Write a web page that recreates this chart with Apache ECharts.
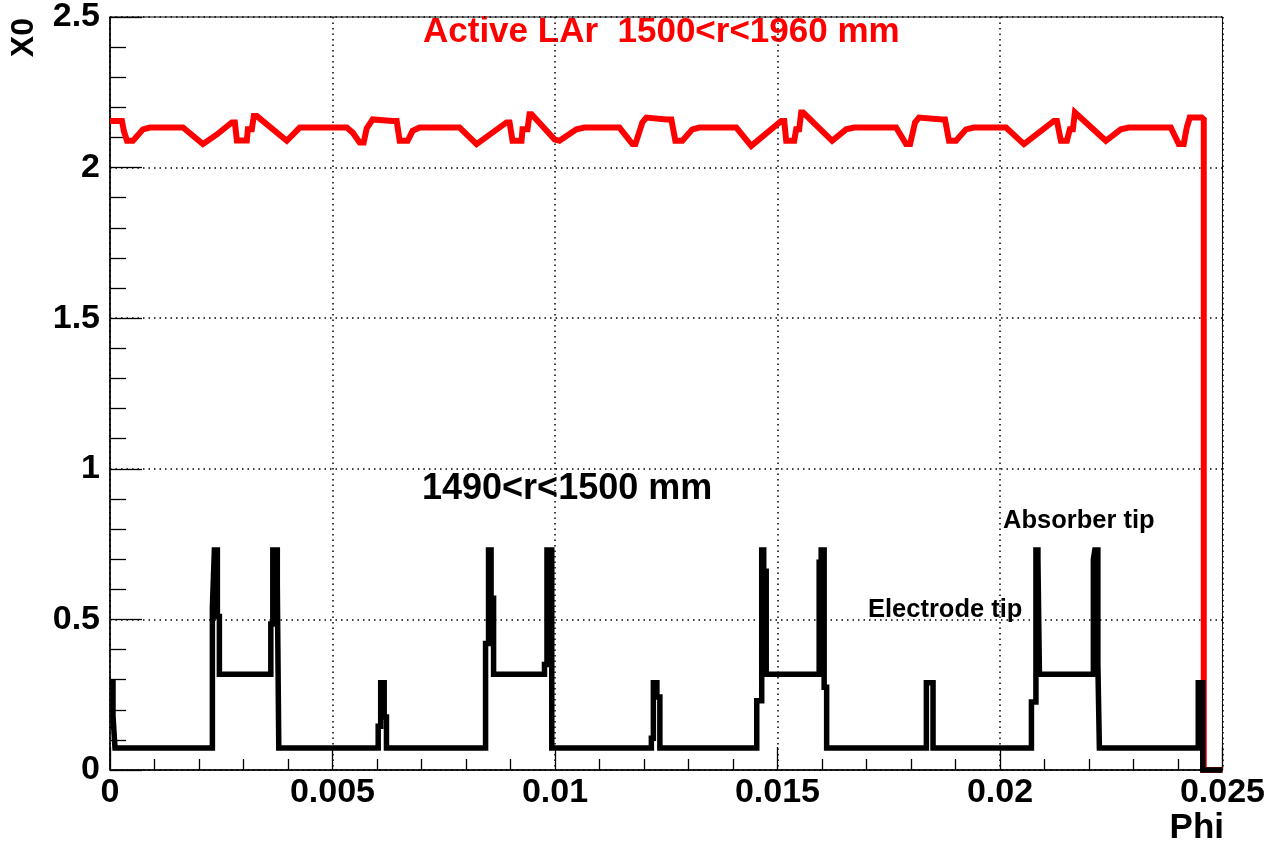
<!DOCTYPE html>
<html>
<head>
<meta charset="utf-8">
<script src="https://cdn.jsdelivr.net/npm/echarts@6/dist/echarts.min.js"></script>
<style>
  html, body { margin: 0; padding: 0; background: #fff; }
  #chart { width: 1268px; height: 844px; }
</style>
</head>
<body>
<div id="chart"></div>
<script>
// Radiation length X0 versus phi over four absorber periods

// Axis ticks
const xTicks = [0, 0.005, 0.01, 0.015, 0.02, 0.025];
const xTickLabels = ['0', '0.005', '0.01', '0.015', '0.02', '0.025'];
const yTicks = [0, 0.5, 1, 1.5, 2, 2.5];
const yTickLabels = ['0', '0.5', '1', '1.5', '2', '2.5'];

// Active LAr, 1500<r<1960 mm : phi positions and X0 values (polyline)
const activePhi = [
  0, 0.000269, 0.000314, 0.000382, 0.000516, 0.000741, 0.000898, 0.001639, 0.002088, 0.002402,
  0.002738, 0.002806, 0.002851, 0.003075, 0.003098, 0.003187, 0.003232, 0.0033, 0.003973, 0.004265,
  0.00532, 0.005455, 0.005612, 0.005701, 0.005769, 0.005903, 0.006352, 0.006442, 0.00651,
  0.006689, 0.006801, 0.006958, 0.007856, 0.008238, 0.008911, 0.008979, 0.009046, 0.009248, 0.00927,
  0.009383, 0.009428, 0.009473, 0.009989, 0.010101, 0.010483, 0.010662, 0.011448, 0.01174, 0.011807,
  0.011964, 0.012054, 0.012503, 0.012615, 0.012705,
  0.012862, 0.013086, 0.013244, 0.014074, 0.014411, 0.015084, 0.015152, 0.015196, 0.015376, 0.015421,
  0.015488, 0.015533, 0.015578, 0.016229, 0.016543, 0.016723, 0.017666, 0.01789, 0.01798, 0.018092,
  0.018182, 0.018698, 0.018765, 0.018855,
  0.019012, 0.019237, 0.019416, 0.020135, 0.020539, 0.021212, 0.02128, 0.021369, 0.021504, 0.021571,
  0.021639, 0.021684, 0.021728, 0.02238, 0.022716, 0.022896, 0.023838, 0.024018, 0.02413, 0.024198,
  0.024265, 0.024534, 0.02456, 0.02458, 0.02458, 0.025
];
const activeX0 = [
  2.155, 2.155, 2.12, 2.089, 2.089, 2.127, 2.133, 2.133, 2.078, 2.11,
  2.15, 2.15, 2.09, 2.09, 2.127, 2.127, 2.171, 2.171, 2.089, 2.133,
  2.133, 2.116, 2.083, 2.083, 2.13, 2.16, 2.155, 2.155, 2.089,
  2.089, 2.122, 2.133, 2.133, 2.078, 2.15, 2.15, 2.089, 2.089, 2.127,
  2.127, 2.177, 2.177, 2.094, 2.089, 2.127, 2.133, 2.133, 2.078, 2.078,
  2.15, 2.166, 2.16, 2.16, 2.089,
  2.089, 2.127, 2.133, 2.133, 2.072, 2.155, 2.155, 2.089, 2.089, 2.127,
  2.127, 2.183, 2.183, 2.089, 2.127, 2.133, 2.133, 2.078, 2.078, 2.15,
  2.166, 2.16, 2.16, 2.089,
  2.089, 2.127, 2.133, 2.133, 2.078, 2.155, 2.155, 2.089, 2.089, 2.127,
  2.127, 2.183, 2.183, 2.089, 2.127, 2.133, 2.133, 2.078, 2.078, 2.133,
  2.166, 2.166, 2.16, 2.16, 0, 0
];

// 1490<r<1500 mm : step edges in phi and X0 level starting at each edge
const innerEdges = [
  0, 0.0000673, 0.000112,
  0.0023008, 0.0023457, 0.002413, 0.002458, 0.003614, 0.003659, 0.00376, 0.003793,
  0.006027, 0.006083, 0.006162, 0.006213,
  0.00844, 0.008507, 0.008564, 0.00862, 0.009764, 0.00982, 0.009928,
  0.012166, 0.012211, 0.01229, 0.012357,
  0.014534, 0.014646, 0.014691, 0.014747, 0.015937, 0.015982, 0.016049, 0.016105,
  0.018346, 0.018496,
  0.020707, 0.020808, 0.020853, 0.020887, 0.022099, 0.022132, 0.0222, 0.022234,
  0.024456, 0.024557, 0.025
];
const innerX0 = [
  0.29, 0.18, 0.073,
  0.54, 0.73, 0.51, 0.318, 0.485, 0.73, 0.61, 0.073,
  0.145, 0.29, 0.176, 0.073,
  0.42, 0.73, 0.57, 0.318, 0.35, 0.73, 0.073,
  0.105, 0.29, 0.242, 0.073,
  0.23, 0.73, 0.66, 0.318, 0.69, 0.73, 0.275, 0.073,
  0.29, 0.073,
  0.226, 0.73, 0.70, 0.318, 0.70, 0.73, 0.353, 0.073,
  0.29, 0, 0
];

const FONT = '"Liberation Sans", Arial, Helvetica, sans-serif';

const activeData = activePhi.map((p, i) => [p, activeX0[i]]);
const innerData = innerEdges.map((p, i) => [p, innerX0[i]]);

const chart = echarts.init(document.getElementById('chart'), null, { renderer: 'canvas' });

const tickLine = { color: '#000', width: 1.3 };

chart.setOption({
  animation: false,
  backgroundColor: '#fff',
  grid: {
    left: 110, right: 44, top: 14, bottom: 74,
    show: true, borderColor: '#000', borderWidth: 1, backgroundColor: 'transparent'
  },
  xAxis: {
    type: 'value', min: xTicks[0], max: xTicks[xTicks.length - 1], interval: 0.005,
    axisLine: { show: true, onZero: false, lineStyle: { color: '#000', width: 1.5 } },
    axisTick: { show: true, inside: true, length: 23, lineStyle: tickLine },
    minorTick: { show: true, splitNumber: 5, length: 11, lineStyle: tickLine },
    axisLabel: {
      color: '#000', fontFamily: FONT, fontWeight: 'bold', fontSize: 34, margin: 6,
      formatter: v => xTickLabels[Math.round(v / 0.005)]
    },
    splitLine: { show: true, lineStyle: { color: '#000', width: 1.5, type: [1.5, 4] } }
  },
  yAxis: {
    type: 'value', min: yTicks[0], max: yTicks[yTicks.length - 1], interval: 0.5,
    axisLine: { show: true, onZero: false, lineStyle: { color: '#000', width: 1.5 } },
    axisTick: { show: true, inside: true, length: 32, lineStyle: tickLine },
    minorTick: { show: true, splitNumber: 5, length: 16, lineStyle: tickLine },
    axisLabel: {
      color: '#000', fontFamily: FONT, fontWeight: 'bold', fontSize: 34, margin: 10,
      formatter: v => yTickLabels[Math.round(v / 0.5)]
    },
    splitLine: { show: true, lineStyle: { color: '#000', width: 1.5, type: [1.5, 4] } }
  },
  series: [
    {
      name: 'Active LAr 1500<r<1960 mm', type: 'line', data: activeData,
      symbol: 'none', z: 3, clip: false,
      lineStyle: { color: '#ff0000', width: 6, join: 'miter' }
    },
    {
      name: '1490<r<1500 mm', type: 'line', data: innerData, step: 'end',
      symbol: 'none', z: 4, clip: false,
      lineStyle: { color: '#000', width: 5.5, join: 'miter' }
    }
  ],
  graphic: [
    { type: 'text', x: 423, y: 32,
      style: { text: 'Active LAr  1500<r<1960 mm', font: 'bold 35px ' + FONT, fill: '#ff0000', verticalAlign: 'middle', align: 'left' } },
    { type: 'text', x: 422, y: 489,
      style: { text: '1490<r<1500 mm', font: 'bold 36px ' + FONT, fill: '#000', verticalAlign: 'middle', align: 'left' } },
    { type: 'text', x: 1003, y: 521,
      style: { text: 'Absorber tip', font: 'bold 25.5px ' + FONT, fill: '#000', verticalAlign: 'middle', align: 'left' } },
    { type: 'text', x: 868, y: 610,
      style: { text: 'Electrode tip', font: 'bold 25.5px ' + FONT, fill: '#000', verticalAlign: 'middle', align: 'left' } },
    { type: 'text', x: 1224, y: 828,
      style: { text: 'Phi', font: 'bold 35px ' + FONT, fill: '#000', verticalAlign: 'middle', align: 'right' } },
    { type: 'text', x: 24, y: 18, rotation: Math.PI / 2,
      style: { text: 'X0', font: 'bold 32px ' + FONT, fill: '#000', verticalAlign: 'middle', align: 'right' } }
  ]
});
</script>
</body>
</html>
